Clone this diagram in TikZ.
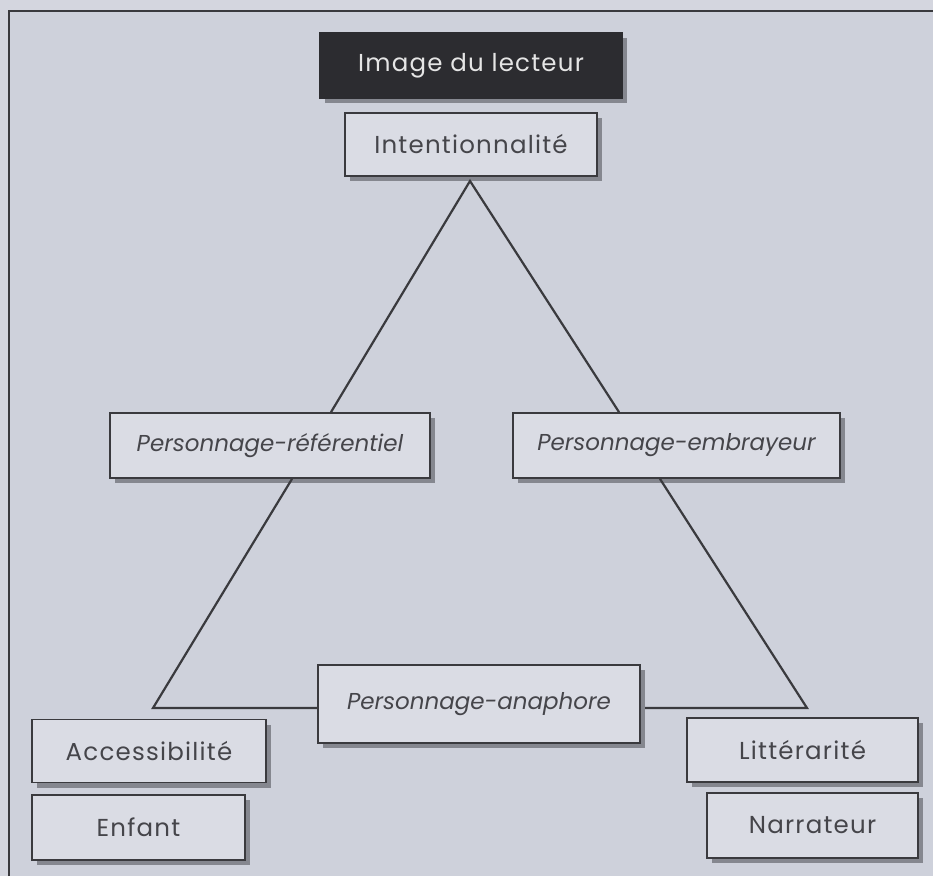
\documentclass[tikz,border=0pt]{standalone}
\usepackage{fontspec}
\setmainfont{Poppins}
\newfontfamily\lblfont[LetterSpace=5]{Poppins}
\usetikzlibrary{shadows}
\definecolor{bgout}{HTML}{D4D6DF}
\definecolor{bgin}{HTML}{CED1DB}
\definecolor{boxfill}{HTML}{DADCE4}
\definecolor{ink}{HTML}{3A3A3E}
\definecolor{txt}{HTML}{45454A}
\definecolor{shade}{HTML}{85878F}
\definecolor{darkbox}{HTML}{2C2C30}
\begin{document}
\begin{tikzpicture}[x=1pt,y=-1pt,
  lbl/.style={draw=ink, line width=1.8pt, fill=boxfill, text=txt, inner sep=0pt,
    font=\lblfont\fontsize{24.5}{28}\selectfont,
    drop shadow={shadow xshift=5pt, shadow yshift=-5pt, fill=shade, opacity=1}},
  ital/.style={lbl, font=\fontsize{23}{28}\selectfont\itshape},
  edge/.style={draw=ink, line width=2.2pt, line join=miter}]
\useasboundingbox (0,0) rectangle (933,876);
\fill[bgout] (0,0) rectangle (933,876);
\fill[bgin] (9,11) rectangle (933,876);
\draw[ink, line width=1.5pt] (9,876) -- (9,11) -- (933,11);
% nodes
\node[lbl, fill=darkbox, draw=darkbox, text=white!90!black, minimum width=302pt, minimum height=65pt] (lect) at (471,65.5) {Image du lecteur};
\node[lbl, minimum width=252pt, minimum height=63pt] (intent) at (471,144.5) {Intentionnalit\'e};
\node[ital, minimum width=320pt, minimum height=65pt] (pref) at (270,445.5) {Personnage-r\'ef\'erentiel};
\node[ital, minimum width=327pt, minimum height=65pt] (pemb) at (676.5,445.5) {Personnage-embrayeur};
\node[lbl, minimum width=234pt, minimum height=63pt] (acc) at (149,751) {Accessibilit\'e};
\node[lbl, minimum width=213pt, minimum height=65pt] (enf) at (138.5,827.5) {Enfant};
\node[lbl, minimum width=231pt, minimum height=64pt] (litt) at (802.5,750) {Litt\'erarit\'e};
\node[lbl, minimum width=211pt, minimum height=65pt] (narr) at (812.5,825.5) {Narrateur};
% triangle corners
\coordinate (apex) at (470,181);
\coordinate (bl) at (153,708);
\coordinate (br) at (807,708);
% triangle edges
\draw[edge] (pref.north -| 331,0) -- (apex) -- (pemb.north -| 619,0);
\draw[edge] (pref.south -| 292,0) -- (bl) -- (br) -- (pemb.south -| 660,0);
\node[ital, minimum width=322pt, minimum height=78pt] (anaph) at (479,704) {Personnage-anaphore};
\end{tikzpicture}
\end{document}
